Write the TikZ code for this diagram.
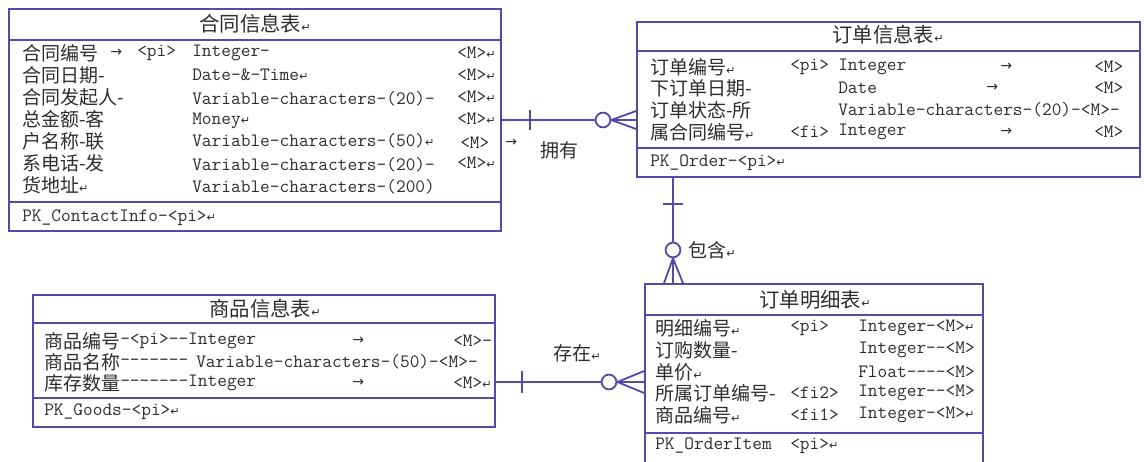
\documentclass[tikz,border=0pt]{standalone}
\usepackage{fontspec}
\newfontfamily\cjk{Noto Sans CJK SC}
\setmonofont{Latin Modern Mono}
\newfontfamily\symf{DejaVu Sans}
\usepackage{tikz}
\usetikzlibrary{fit}
\usepackage{xcolor}
\definecolor{erline}{RGB}{88,72,168}
\definecolor{ertext}{RGB}{45,45,45}
\newcommand{\ret}{{\symf\fontsize{8}{8}\selectfont\char"21B5}}
\newcommand{\rarr}{{\symf\fontsize{10}{10}\selectfont\char"2192}}
\tikzset{
  tbl/.style={draw=erline,line width=1.3pt,inner sep=0pt},
  sepline/.style={draw=erline,line width=1.3pt},
  rel/.style={draw=erline,line width=1.3pt},
  ring/.style={circle,draw=erline,line width=1.3pt,fill=white,minimum size=0.37cm,inner sep=0pt},
  ttl/.style={font=\cjk\fontsize{14.5}{15}\selectfont,text=ertext,inner sep=0pt},
  fld/.style={font=\cjk\fontsize{13.5}{14}\selectfont,text=ertext,anchor=west,inner sep=0pt},
  typ/.style={font=\ttfamily\fontsize{13.4}{14}\selectfont,text=ertext,anchor=west,inner sep=0pt}
}
\begin{document}
\begin{tikzpicture}[x=0.025cm,y=-0.025cm]
\useasboundingbox (0,0) rectangle (1144,461);
% tables
\node[tbl,fit={(9,9) (501,231)}] (contract) {};
\node[tbl,fit={(637,22) (1140,177)}] (order) {};
\node[tbl,fit={(33,295) (495,427)}] (goods) {};
\node[tbl,fit={(645,284) (983,475)}] (item) {};
\draw[sepline] (contract.west |- 0,40) -- (contract.east |- 0,40);
\draw[sepline] (contract.west |- 0,202) -- (contract.east |- 0,202);
\draw[sepline] (order.west |- 0,51) -- (order.east |- 0,51);
\draw[sepline] (order.west |- 0,148) -- (order.east |- 0,148);
\draw[sepline] (goods.west |- 0,323) -- (goods.east |- 0,323);
\draw[sepline] (goods.west |- 0,398) -- (goods.east |- 0,398);
\draw[sepline] (item.west |- 0,315) -- (item.east |- 0,315);
\draw[sepline] (item.west |- 0,433) -- (item.east |- 0,433);
% contract
\node[ttl] (ctitle) at (255,24) {合同信息表\ret};
\node[fld] (cn1) at (22,53) {合同编号};
\node[typ] (ca1) at (110,53) {\rarr};
\node[typ] (ck1) at (137,53) {<pi>};
\node[typ] (ct1) at (192,53) {Integer-};
\node[typ] (cm1) at (457,53) {<M>\ret};
\node[fld] (cn2) at (22,75) {合同日期-};
\node[typ] (ct2) at (192,75) {Date-\&-Time\ret};
\node[typ] (cm2) at (457,75) {<M>\ret};
\node[fld] (cn3) at (22,97) {合同发起人-};
\node[typ] (ct3) at (192,99) {Variable-characters-(20)-};
\node[typ] (cm3) at (457,97) {<M>\ret};
\node[fld] (cn4) at (22,119) {总金额-客};
\node[typ] (ct4) at (192,121) {Money\ret};
\node[typ] (cm4) at (457,119) {<M>\ret};
\node[fld] (cn5) at (22,141) {户名称-联};
\node[typ] (ct5) at (192,141) {Variable-characters-(50)\ret};
\node[typ] (cm5) at (460,143) {<M>};
\node[fld] (cn6) at (22,163) {系电话-发};
\node[typ] (ct6) at (192,165) {Variable-characters-(20)-};
\node[typ] (cm6) at (457,163) {<M>\ret};
\node[fld] (cn7) at (22,185) {货地址\ret};
\node[typ] (ct7) at (192,187) {Variable-characters-(200)};
\node[typ] (cpk) at (22,218) {PK\_ContactInfo-<pi>\ret};
% order
\node[ttl] (otitle) at (888,35) {订单信息表\ret};
\node[fld] (on1) at (650,67) {订单编号\ret};
\node[typ] (ok1) at (790,67) {<pi>};
\node[typ] (ot1) at (838,67) {Integer};
\node[typ] (oa1) at (1000,67) {\rarr};
\node[typ] (om1) at (1094,67) {<M>};
\node[fld] (on2) at (650,88) {下订单日期-};
\node[typ] (ot2) at (838,88) {Date};
\node[typ] (oa2) at (986,88) {\rarr};
\node[typ] (om2) at (1094,88) {<M>};
\node[fld] (on3) at (650,110) {订单状态-所};
\node[typ] (ot3) at (838,110) {Variable-characters-(20)-<M>-};
\node[fld] (on4) at (650,132) {属合同编号\ret};
\node[typ] (ok4) at (790,132) {<fi>};
\node[typ] (ot4) at (838,132) {Integer};
\node[typ] (oa4) at (1000,132) {\rarr};
\node[typ] (om4) at (1094,132) {<M>};
\node[typ] (opk) at (650,163) {PK\_Order-<pi>\ret};
% goods
\node[ttl] (gtitle) at (265,309) {商品信息表\ret};
\node[fld] (gn1) at (44,341) {商品编号};
\node[typ] (gt1) at (120,341) {-<pi>--Integer};
\node[typ] (ga1) at (352,341) {\rarr};
\node[typ] (gm1) at (453,341) {<M>-};
\node[fld] (gn2) at (44,362) {商品名称};
\node[typ] (gd2) at (120,362) {-------};
\node[typ] (gt2) at (196,362) {Variable-characters-(50)-<M>-};
\node[fld] (gn3) at (44,383) {库存数量};
\node[typ] (gt3) at (120,383) {-------Integer};
\node[typ] (ga3) at (352,383) {\rarr};
\node[typ] (gm3) at (453,383) {<M>\ret};
\node[typ] (gpk) at (44,412) {PK\_Goods-<pi>\ret};
% item
\node[ttl] (ititle) at (815,300) {订单明细表\ret};
\node[fld] (in1) at (655,328) {明细编号\ret};
\node[typ] (ik1) at (790,328) {<pi>};
\node[typ] (it1) at (858,328) {Integer-<M>\ret};
\node[fld] (in2) at (655,350) {订购数量-};
\node[typ] (it2) at (858,350) {Integer--<M>};
\node[fld] (in3) at (655,372) {单价\ret};
\node[typ] (it3) at (858,372) {Float----<M>};
\node[fld] (in4) at (655,393) {所属订单编号-};
\node[typ] (ik4) at (790,393) {<fi2>};
\node[typ] (it4) at (858,393) {Integer--<M>};
\node[fld] (in5) at (655,415) {商品编号\ret};
\node[typ] (ik5) at (790,415) {<fi1>};
\node[typ] (it5) at (858,415) {Integer-<M>\ret};
\node[typ] (ipk) at (655,446) {PK\_OrderItem};
\node[typ] (ipkk) at (790,446) {<pi>\ret};
% relations
\node[ring] (r1) at (603,120) {};
\draw[rel] (contract.east |- r1) -- (r1);
\draw[rel] (530,110) -- (530,130);
\draw[rel] (r1.east) -- (order.west |- 0,111);
\draw[rel] (r1.east) -- (order.west |- r1);
\draw[rel] (r1.east) -- (order.west |- 0,129);
\node[fld] (l1a) at (505,143) {\rarr};
\node[fld] (l1) at (540,150) {拥有};
\node[ring] (r2) at (673,250) {};
\draw[rel] (order.south -| r2) -- (r2);
\draw[rel] (663,204) -- (683,204);
\draw[rel] (r2.south) -- (item.north -| 664,0);
\draw[rel] (r2.south) -- (item.north -| r2);
\draw[rel] (r2.south) -- (item.north -| 683,0);
\node[fld] (l2) at (688,250) {包含\ret};
\node[ring] (r3) at (609,382) {};
\draw[rel] (goods.east |- r3) -- (r3);
\draw[rel] (522,371) -- (522,393);
\draw[rel] (r3.east) -- (item.west |- 0,371);
\draw[rel] (r3.east) -- (item.west |- r3);
\draw[rel] (r3.east) -- (item.west |- 0,393);
\node[fld] (l3) at (553,353) {存在\ret};
\end{tikzpicture}
\end{document}
